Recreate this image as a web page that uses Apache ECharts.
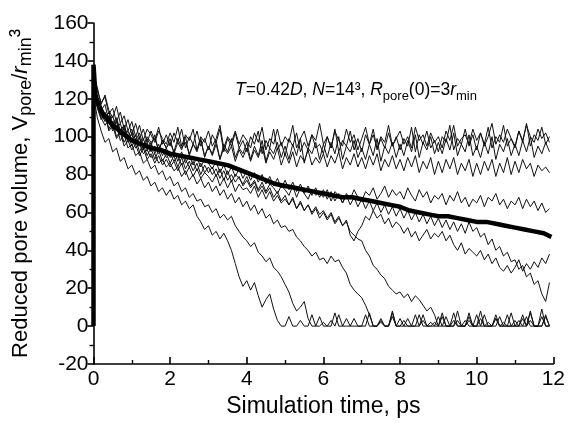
<!DOCTYPE html>
<html>
<head>
<meta charset="utf-8">
<script src="https://cdn.jsdelivr.net/npm/echarts@6/dist/echarts.min.js"></script>
<style>html,body{margin:0;padding:0;background:#fff}#c{width:568px;height:423px}</style>
</head>
<body>
<div id="c"></div>
<script>
// time grid (ps) shared by the individual runs
const times = [
0,0.1,0.2,0.3,0.4,0.5,0.6,0.7,0.8,0.9,
1,1.1,1.2,1.3,1.4,1.5,1.6,1.7,1.8,1.9,
2,2.1,2.2,2.3,2.4,2.5,2.6,2.7,2.8,2.9,
3,3.1,3.2,3.3,3.4,3.5,3.6,3.7,3.8,3.9,
4,4.1,4.2,4.3,4.4,4.5,4.6,4.7,4.8,4.9,
5,5.1,5.2,5.3,5.4,5.5,5.6,5.7,5.8,5.9,
6,6.1,6.2,6.3,6.4,6.5,6.6,6.7,6.8,6.9,
7,7.1,7.2,7.3,7.4,7.5,7.6,7.7,7.8,7.9,
8,8.1,8.2,8.3,8.4,8.5,8.6,8.7,8.8,8.9,
9,9.1,9.2,9.3,9.4,9.5,9.6,9.7,9.8,9.9,
10,10.1,10.2,10.3,10.4,10.5,10.6,10.7,10.8,10.9,
11,11.1,11.2,11.3,11.4,11.5,11.6,11.7,11.8,11.9];

const runA = [
135,124,118,121,112,115,108,113,104,109,
101,107,99,104,97,103,98,105,96,101,
95,102,97,104,94,100,96,103,95,99,
93,101,97,104,92,99,95,102,94,98,
92,100,96,103,91,98,94,104,93,97,
90,99,95,102,92,97,93,101,94,96,
91,100,94,104,92,98,95,103,93,99,
92,101,96,104,93,99,94,102,95,100,
93,99,95,105,92,101,96,103,94,98,
92,100,97,106,93,99,96,104,95,101,
93,102,96,105,94,100,97,106,95,99,
94,103,97,107,95,101,98,105,96,100];

const runB = [
128,119,114,109,111,104,108,101,105,98,
102,96,100,93,99,95,101,92,98,94,
99,91,97,93,100,90,96,92,99,89,
95,91,98,88,96,92,99,89,94,91,
97,88,95,90,98,87,94,91,97,89,
95,88,96,90,99,86,94,91,97,88,
96,89,97,91,100,88,95,92,98,89,
94,88,96,90,99,87,95,91,97,89,
96,90,98,92,101,89,97,93,100,91,
97,91,99,93,102,90,96,92,101,90,
95,89,97,91,100,88,96,92,99,90,
96,90,98,92,100,89,95,91,97,92];

const runK = [
132,126,117,122,114,110,116,107,111,103,
108,100,106,98,104,101,97,103,99,96,
102,97,105,95,101,98,104,93,100,97,
103,95,99,106,94,100,97,103,96,101,
98,94,102,97,105,93,99,96,104,95,
100,97,106,94,99,103,95,101,98,107,
96,100,94,103,98,95,104,97,101,93,
99,105,96,101,94,100,97,106,95,99,
103,96,100,94,105,98,101,95,102,97,
100,94,103,98,106,95,99,101,96,104,
98,102,95,100,107,96,101,97,104,99,
95,103,98,106,100,97,104,99,102,97];

const runC = [
130,121,116,110,113,107,110,103,106,100,
104,98,102,95,100,97,99,93,98,94,
97,92,99,94,97,91,96,93,98,90,
95,90,96,88,94,91,95,87,93,89,
94,87,93,89,95,86,92,88,94,85,
91,86,92,84,90,87,93,85,89,86,
91,84,90,86,92,83,89,85,91,84,
89,83,90,85,91,82,88,84,90,83,
88,82,89,84,90,81,87,83,89,80,
87,81,88,83,89,80,86,82,88,79,
86,80,87,82,88,79,86,81,89,80,
87,81,88,83,86,79,85,82,84,81];

const runD = [
125,117,110,113,104,108,100,103,97,101,
95,99,92,96,90,94,88,93,87,91,
86,90,84,89,83,87,82,86,80,85,
81,84,79,83,77,82,76,80,78,75,
79,74,77,72,76,71,75,73,70,74,
72,69,74,68,73,70,67,72,69,71,
68,72,66,71,69,65,70,67,72,68,
66,71,69,73,67,70,74,68,72,69,
71,67,73,69,66,72,68,71,65,69,
67,70,64,69,66,71,65,68,63,67,
65,69,63,68,66,70,64,67,62,66,
64,68,62,67,63,66,61,65,60,62];

const runE = [
124,115,109,112,103,106,99,102,95,98,
93,96,90,94,88,91,86,90,85,88,
84,87,82,86,80,84,79,83,78,81,
79,76,80,74,78,73,77,71,75,72,
73,70,74,68,72,67,71,66,69,65,
67,64,68,62,66,61,64,60,63,59,
61,57,60,55,58,53,56,48,45,50,
53,58,56,61,57,59,54,57,52,55,
53,49,52,47,50,45,48,51,46,49,
47,50,45,48,43,40,44,38,41,39,
37,40,35,38,33,36,31,29,32,28,
31,35,29,33,30,34,31,36,33,38];

const runF = [
131,120,114,117,108,111,104,107,100,103,
98,101,95,99,93,97,91,96,90,94,
89,93,87,92,86,90,85,89,84,88,
86,83,87,81,85,80,84,79,83,78,
82,77,81,76,80,75,79,74,78,73,
77,72,76,71,75,70,74,69,73,68,
72,67,71,66,70,65,69,64,68,63,
67,62,66,61,65,60,64,59,63,58,
62,57,61,56,60,55,59,54,58,53,
57,52,56,51,55,50,54,49,55,50,
52,47,49,43,46,40,42,37,39,34,
35,30,32,26,28,22,24,17,13,23];

const runG = [
122,110,103,97,99,92,94,87,89,83,
85,80,82,77,79,74,76,71,73,69,
72,67,69,64,66,62,64,58,55,51,
53,48,50,46,49,45,40,33,26,21,
24,19,23,16,10,14,17,9,3,0,
0,5,0,0,3,0,0,6,0,0,
2,0,0,7,0,0,4,0,0,0,
0,6,0,0,0,3,0,0,8,0,
0,0,4,0,0,0,6,0,0,2,
0,7,0,0,3,0,0,0,5,0,
0,0,6,0,0,4,0,0,0,7,
0,3,0,0,8,0,0,5,0,0];

const runH = [
126,116,110,106,109,103,106,98,101,94,
96,90,92,86,88,83,85,80,82,77,
79,74,76,71,73,68,70,66,67,63,
64,60,62,57,59,56,58,53,50,47,
45,42,44,39,37,34,36,31,29,26,
22,18,12,8,10,13,4,0,0,5,
0,0,3,0,6,0,0,0,4,0,
0,0,7,0,0,2,0,0,5,0,
4,0,0,0,6,0,3,0,0,0,
0,5,0,0,0,8,0,0,3,0,
6,0,0,2,0,0,5,0,0,0,
0,0,4,0,7,0,0,0,6,0];

const runI = [
128,118,112,108,111,105,108,101,104,97,
99,94,96,91,93,89,91,86,88,84,
86,82,84,79,82,77,80,75,78,73,
76,71,74,69,72,67,70,65,68,63,
66,61,64,59,62,57,59,54,56,52,
53,50,51,47,45,42,40,37,39,35,
36,33,37,34,35,31,28,22,19,17,
15,11,6,0,0,4,0,0,7,0,
0,3,0,0,0,6,0,0,2,0,
5,0,0,0,7,0,0,3,0,0,
0,8,0,0,0,4,0,0,6,0,
3,0,0,5,0,0,0,9,0,0];

const runJ = [
130,120,114,110,113,106,109,103,106,99,
101,96,99,94,97,92,95,91,93,89,
91,87,90,85,88,84,87,82,86,81,
84,80,83,78,82,77,80,76,79,74,
77,73,76,71,74,70,73,68,71,66,
69,64,67,62,65,61,64,59,62,57,
60,56,59,54,57,53,55,50,48,46,
45,40,37,32,30,27,25,21,19,17,
18,15,17,13,16,14,11,8,10,6,
0,0,5,0,0,3,0,0,7,0,
0,4,0,0,0,6,0,2,0,0,
0,0,6,0,3,0,0,0,5,0];

// averaged curve (thick)
const avgTimes = [0,0,0.05,0.15,0.25,0.5,0.75,1,1.25,1.5,1.75,2,2.25,2.5,2.75,3,3.25,3.5,3.75,4,4.25,4.5,4.75,5,5.25,5.5,5.75,6,6.25,6.5,6.75,7,7.25,7.5,7.75,8,8.25,8.5,8.75,9,9.25,9.5,9.75,10,10.25,10.5,10.75,11,11.25,11.5,11.75,11.95];
const avgValues = [0,138,122,116,112,106,102,98,96,94,93,91,90,89,88,87,86,85,83,81,79,77,75,74,73,72,71,70,69,68,68,67,66,65,64,63,61,60,59,58,58,57,56,55,55,54,53,52,51,50,49,47];

const xTicks = {min:0, max:12, interval:2};
const yTicks = {min:-20, max:160, interval:20};

const runs = [runA, runB, runK, runC, runD, runE, runF, runG, runH, runI, runJ];
const FONT = 'Liberation Sans, Arial, sans-serif';

const series = runs.map((r, k) => ({
  type: 'line', name: 'run' + k, showSymbol: false, silent: true,
  data: times.map((t, i) => [t, r[i]]),
  lineStyle: {color: '#111', width: 1}, z: 2
}));
series.push({
  type: 'line', name: 'avg', showSymbol: false, silent: true,
  data: avgTimes.map((t, i) => [t, avgValues[i]]),
  lineStyle: {color: '#000', width: 4.5}, z: 3
});

const chart = echarts.init(document.getElementById('c'), null, {renderer: 'canvas'});
chart.setOption({
  animation: false,
  backgroundColor: '#fff',
  title: {
    left: 230, top: 72,
    text: '{i|T}{n|=0.42}{i|D}{n|, }{i|N}{n|=14³, }{i|R}{s|pore}{n|(0)=3}{i|r}{s|min}',
    textStyle: {
      fontWeight: 'normal',
      rich: {
        n: {fontSize: 17.5, fontFamily: FONT, fontWeight: 'normal', color: '#000', lineHeight: 26},
        i: {fontSize: 17.5, fontFamily: FONT, fontWeight: 'normal', fontStyle: 'italic', color: '#000', lineHeight: 26},
        s: {fontSize: 13, fontFamily: FONT, fontWeight: 'normal', color: '#000', verticalAlign: 'bottom', lineHeight: 12}
      }
    }
  },
  grid: {left: 93, right: 11, top: 23, bottom: 59},
  xAxis: {
    type: 'value', min: xTicks.min, max: xTicks.max, interval: xTicks.interval,
    axisLine: {show: true, onZero: false, lineStyle: {color: '#000', width: 1.6}},
    axisTick: {show: true, inside: true, length: 7, lineStyle: {color: '#000', width: 1.6}},
    minorTick: {show: true, splitNumber: 2, length: 4, lineStyle: {color: '#000', width: 1.4}},
    splitLine: {show: false},
    axisLabel: {color: '#000', fontSize: 21, fontFamily: FONT, margin: 5},
    name: 'Simulation time, ps', nameLocation: 'middle', nameGap: 31,
    nameTextStyle: {color: '#000', fontSize: 23, fontFamily: FONT}
  },
  yAxis: {
    type: 'value', min: yTicks.min, max: yTicks.max, interval: yTicks.interval,
    axisLine: {show: true, onZero: false, lineStyle: {color: '#000', width: 1.6}},
    axisTick: {show: true, inside: false, length: 6, lineStyle: {color: '#000', width: 1.6}},
    minorTick: {show: true, splitNumber: 2, length: 4, lineStyle: {color: '#000', width: 1.4}},
    splitLine: {show: false},
    axisLabel: {color: '#000', fontSize: 21, fontFamily: FONT, margin: 5},
    name: '{n|Reduced pore volume, V}{s|pore}{n|/}{i|r}{s|min}{p|³}',
    nameLocation: 'middle', nameGap: 58,
    nameTextStyle: {
      rich: {
        n: {fontSize: 22, fontFamily: FONT, color: '#000', lineHeight: 30},
        i: {fontSize: 22, fontFamily: FONT, fontStyle: 'italic', color: '#000', lineHeight: 30},
        p: {fontSize: 25, fontFamily: FONT, color: '#000', lineHeight: 30},
        s: {fontSize: 18, fontFamily: FONT, color: '#000', verticalAlign: 'bottom', lineHeight: 18}
      }
    }
  },
  series: series
});
</script>
</body>
</html>
